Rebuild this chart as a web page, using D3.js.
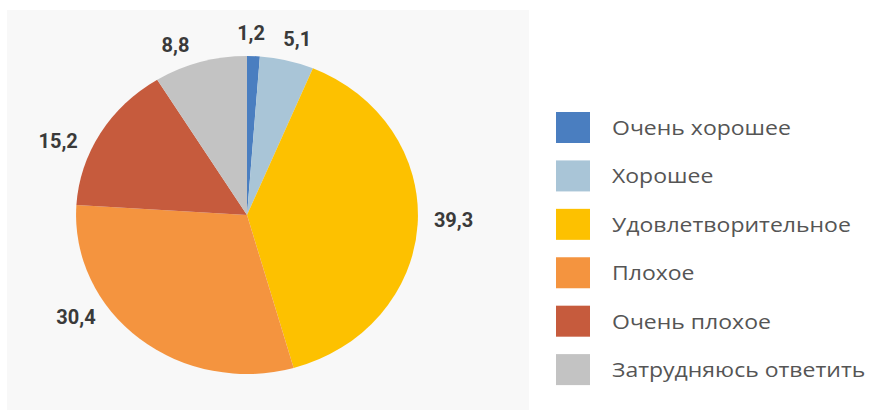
<!DOCTYPE html>
<html>
<head>
<meta charset="utf-8">
<script src="https://cdn.jsdelivr.net/npm/d3@7"></script>
<style>
  body { margin: 0; background: #ffffff; }
  svg { display: block; }
</style>
</head>
<body>
<svg id="chart" width="878" height="415"></svg>
<script>
/** Categories and shares, in percent */
var categories = ['Очень хорошее', 'Хорошее', 'Удовлетворительное', 'Плохое', 'Очень плохое', 'Затрудняюсь ответить'];
var values = [1.2, 5.1, 39.3, 30.4, 15.2, 8.8];
var colors = ['#4a7ec0', '#a9c5d7', '#fdc100', '#f4943f', '#c65b3d', '#c3c3c3'];

/** Layout */
var width = 878,
    height = 415,
    cx = 247,
    cy = 215,
    radius = 165,
    sx = 1.036,
    sy = 0.964;

// a few labels were moved by hand in the original, angle nudge in degrees
var labelNudge = [-1, 1, -2, 17, -7, -5];

var svg = d3.select('#chart');

// faint panel behind the pie
svg.append('rect')
    .attr('x', 7)
    .attr('y', 10)
    .attr('width', 522)
    .attr('height', 400)
    .attr('fill', '#f8f8f8');

var pie = d3.pie().sort(null).value(function (d) { return d; });
var arcs = pie(values);

var arc = d3.arc().innerRadius(0).outerRadius(radius);

var g = svg.append('g')
    .attr('transform', 'translate(' + cx + ',' + cy + ') scale(' + sx + ',' + sy + ')');

g.selectAll('path')
    .data(arcs)
    .enter()
    .append('path')
    .attr('d', arc)
    .attr('fill', function (d, i) { return colors[i]; });

/** Value labels outside the pie */
var fmt = function (v) { return d3.format('.1f')(v).replace('.', ','); };

svg.append('g')
    .selectAll('text')
    .data(arcs)
    .enter()
    .append('text')
    .attr('font-family', 'Roboto, sans-serif')
    .attr('font-weight', 'bold')
    .attr('font-size', 20)
    .attr('fill', '#3a3a3a')
    .attr('text-anchor', 'middle')
    .attr('dy', '0.35em')
    .text(function (d) { return fmt(d.data); })
    .each(function (d, i) {
        var a = (d.startAngle + d.endAngle) / 2 + labelNudge[i] * Math.PI / 180;
        var box = this.getBBox();
        var pad = 16;
        var x = cx + Math.sin(a) * (radius * sx + pad) + Math.sin(a) * box.width / 2;
        var y = cy - Math.cos(a) * (radius * sy + pad) - Math.cos(a) * box.height / 2 * 0.6;
        d3.select(this).attr('x', x).attr('y', y);
    });

/** Legend */
var legendY = d3.scaleBand()
    .domain(categories)
    .range([106, 382])
    .paddingInner(0.3);

var legend = svg.append('g')
    .selectAll('g')
    .data(categories)
    .enter()
    .append('g')
    .attr('transform', function (d) { return 'translate(556,' + (legendY(d) + 6) + ')'; });

legend.append('rect')
    .attr('width', 34)
    .attr('height', 31)
    .attr('fill', function (d, i) { return colors[i]; });

// the original legend font is a bit wider, stretch it horizontally
legend.append('g')
    .attr('transform', 'translate(56,16) scale(1.15,1)')
    .append('text')
    .attr('dy', '0.35em')
    .attr('font-family', '"Open Sans", sans-serif')
    .attr('font-size', 20)
    .attr('fill', '#555555')
    .text(function (d) { return d; });
</script>
</body>
</html>
